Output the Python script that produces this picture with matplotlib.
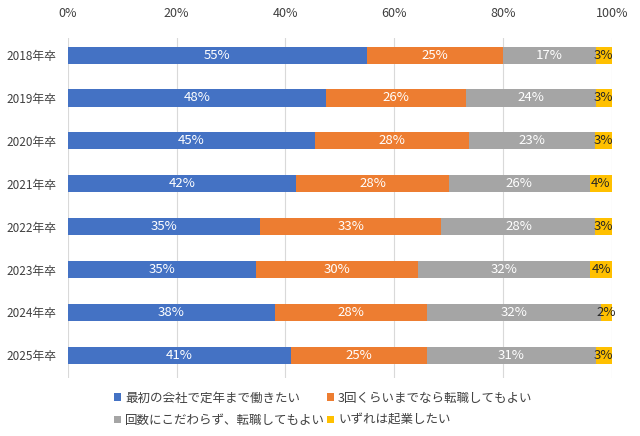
import numpy as np
import matplotlib.pyplot as plt

plt.rcParams['font.family'] = ['Noto Sans CJK JP', 'DejaVu Sans']

# data
years = ['2018年卒', '2019年卒', '2020年卒', '2021年卒', '2022年卒', '2023年卒', '2024年卒', '2025年卒']
series_names = ['最初の会社で定年まで働きたい', '3回くらいまでなら転職してもよい',
                '回数にこだわらず、転職してもよい', 'いずれは起業したい']
first_company = [55, 48, 45, 42, 35, 35, 38, 41]
few_changes = [25, 26, 28, 28, 33, 30, 28, 25]
any_changes = [17, 24, 23, 26, 28, 32, 32, 31]
startup = [3, 3, 3, 4, 3, 4, 2, 3]
colors = ['#4472C4', '#ED7D31', '#A5A5A5', '#FFC000']
text_colors = ['white', 'white', 'white', '#262626']

vals = np.array([first_company, few_changes, any_changes, startup], dtype=float)
pct = vals / vals.sum(axis=0) * 100  # 100% stacked

fig = plt.figure(figsize=(6.4, 4.36), dpi=100)
ax = fig.add_axes([0.106, 0.133, 0.850, 0.780])

y = np.arange(len(years))
left = np.zeros(len(years))
handles = []
for i in range(4):
    h = ax.barh(y, pct[i], left=left, height=0.4, color=colors[i], label=series_names[i], zorder=3)
    handles.append(h)
    for j in range(len(years)):
        ax.text(left[j] + pct[i][j] / 2, y[j], f'{int(vals[i][j])}%', ha='center', va='center',
                color=text_colors[i], fontsize=9.5, zorder=4)
    left += pct[i]

ax.set_xlim(0, 100)
ax.set_ylim(7.53, -0.4)
ax.set_xticks(np.arange(0, 101, 20))
ax.set_xticklabels([f'{v}%' for v in range(0, 101, 20)])
ax.xaxis.tick_top()
ax.set_yticks(y)
ax.set_yticklabels(years)
ax.tick_params(axis='both', length=0, labelsize=8.5, colors='#404040')
ax.tick_params(axis='x', labelsize=9, pad=13)
ax.tick_params(axis='y', pad=8)
ax.grid(axis='x', color='#D9D9D9', linewidth=0.8, zorder=0)
for s in ax.spines.values():
    s.set_visible(False)

# row-wise legend order like the reference
order = [0, 2, 1, 3]
leg = fig.legend([handles[k] for k in order], [series_names[k] for k in order],
                 loc='lower left', bbox_to_anchor=(0.16, -0.005), ncol=2, frameon=False,
                 fontsize=9, handlelength=0.6, handleheight=0.6, handletextpad=0.3,
                 columnspacing=0.15, labelspacing=0.75)
for t in leg.get_texts():
    t.set_color('#404040')

fig.savefig('out.png', dpi=100)
